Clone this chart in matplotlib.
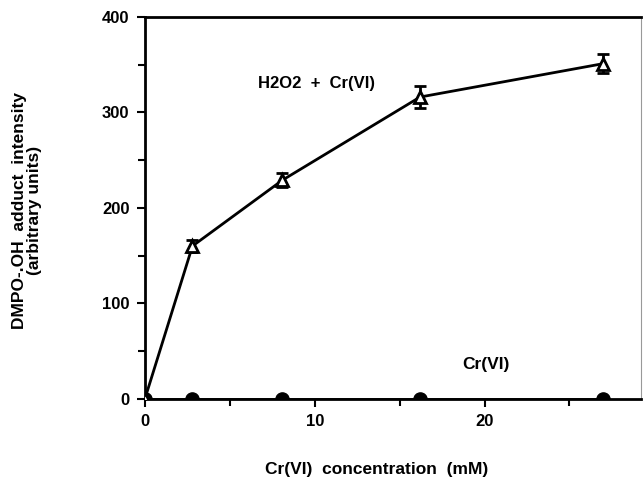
import matplotlib
matplotlib.use('Agg')
import matplotlib.pyplot as plt
from matplotlib.ticker import MultipleLocator

# Cr(VI) concentration (mM)
conc = [0, 2.8, 8.1, 16.2, 27.0]
# DMPO-.OH adduct intensity, H2O2 + Cr(VI)
h2o2_cr = [0, 160, 229, 316, 351]
h2o2_cr_err = [0, 6, 7, 12, 10]
# Cr(VI) alone
cr_only = [0, 0, 0, 0, 0]

plt.rcParams['font.family'] = ['Liberation Sans', 'DejaVu Sans']
plt.rcParams['font.weight'] = 'bold'

fig = plt.figure(figsize=(6.44, 4.8), dpi=100)
ax = fig.add_axes([0.225, 0.169, 0.77, 0.796])

ax.plot(conc, cr_only, '-o', color='black', lw=2, ms=9.5, zorder=3)
ax.errorbar(conc, h2o2_cr, yerr=h2o2_cr_err, fmt='-^', color='black', lw=2,
            ms=8, mfc='white', mec='black', mew=2, capsize=4, capthick=2,
            elinewidth=2, zorder=4)

ax.set_xlim(0, 29.2)
ax.set_ylim(0, 400)
ax.xaxis.set_major_locator(MultipleLocator(10))
ax.xaxis.set_minor_locator(MultipleLocator(5))
ax.yaxis.set_major_locator(MultipleLocator(100))
ax.yaxis.set_minor_locator(MultipleLocator(50))
ax.tick_params(which='both', direction='out', width=1.5, labelsize=12)
ax.tick_params(which='major', length=6, pad=5)
ax.tick_params(which='minor', length=5)
for sp in ax.spines.values():
    sp.set_linewidth(2)
ax.spines['right'].set_linewidth(0.8)
ax.spines['right'].set_color('#999999')

ax.set_xlabel('Cr(VI)  concentration  (mM)', fontsize=12.5, fontweight='bold')
ax.xaxis.set_label_coords(0.467, -0.165)
ax.set_ylabel('DMPO-.OH  adduct  intensity\n(arbitrary units)', fontsize=12.5,
              fontweight='bold', linespacing=1.0)
ax.yaxis.set_label_coords(-0.208, 0.492)

ax.text(0.228, 0.825, 'H2O2  +  Cr(VI)', transform=ax.transAxes,
        fontsize=12, fontweight='bold', va='center')
ax.text(0.640, 0.089, 'Cr(VI)', transform=ax.transAxes,
        fontsize=12.5, fontweight='bold', va='center')

fig.savefig('out.png', dpi=100)
